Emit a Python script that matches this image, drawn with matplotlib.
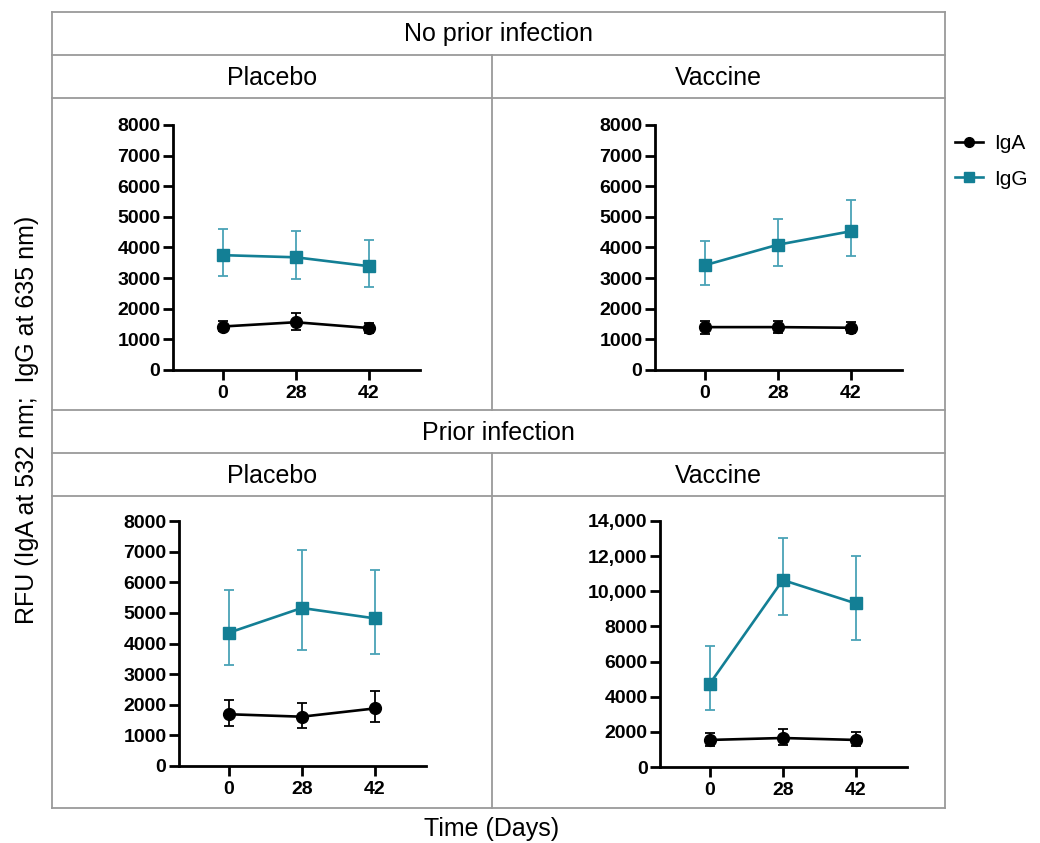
import matplotlib
matplotlib.use('Agg')
import matplotlib.pyplot as plt
from matplotlib.lines import Line2D
from matplotlib.ticker import FuncFormatter

plt.rcParams['font.family'] = ['Liberation Sans', 'DejaVu Sans']

days = ['0', '28', '42']

# mean, lower and upper error ends
# No prior infection / Placebo
tl_iga = [1420, 1560, 1370]
tl_iga_lo = [1260, 1305, 1220]
tl_iga_hi = [1590, 1850, 1545]
tl_igg = [3750, 3680, 3390]
tl_igg_lo = [3070, 2970, 2700]
tl_igg_hi = [4590, 4550, 4240]

# No prior infection / Vaccine
tr_iga = [1400, 1400, 1380]
tr_iga_lo = [1180, 1200, 1200]
tr_iga_hi = [1590, 1590, 1560]
tr_igg = [3420, 4090, 4530]
tr_igg_lo = [2775, 3405, 3720]
tr_igg_hi = [4220, 4940, 5540]

# Prior infection / Placebo
bl_iga = [1690, 1610, 1880]
bl_iga_lo = [1305, 1250, 1445]
bl_iga_hi = [2145, 2055, 2435]
bl_igg = [4350, 5160, 4820]
bl_igg_lo = [3310, 3775, 3645]
bl_igg_hi = [5755, 7040, 6410]

# Prior infection / Vaccine
br_iga = [1540, 1650, 1540]
br_iga_lo = [1180, 1235, 1180]
br_iga_hi = [1940, 2185, 2015]
br_igg = [4730, 10640, 9310]
br_igg_lo = [3265, 8660, 7255]
br_igg_hi = [6875, 13050, 12005]

W, H = 1040, 843
fig = plt.figure(figsize=(W / 100, H / 100), dpi=100)


def fx(px):
    return px / W


def fy(py):
    return 1 - py / H


teal = '#137f95'
teal_err = '#4aa3b6'
grid_col = '#9a9a9a'

# facet frame lines
def hline(y, x0, x1):
    fig.add_artist(Line2D([fx(x0), fx(x1)], [fy(y), fy(y)], color=grid_col, lw=1.3))


def vline(x, y0, y1):
    fig.add_artist(Line2D([fx(x), fx(x)], [fy(y0), fy(y1)], color=grid_col, lw=1.3))


for y in [12, 55, 98, 410, 453, 496, 808]:
    hline(y, 52, 945)
vline(52, 12, 808)
vline(945, 12, 808)
vline(492, 55, 410)
vline(492, 453, 808)

fig.text(fx(498), fy(34), 'No prior infection', ha='center', va='center', fontsize=18)
fig.text(fx(498), fy(433), 'Prior infection', ha='center', va='center', fontsize=18)
for yy in [78, 476]:
    fig.text(fx(272), fy(yy), 'Placebo', ha='center', va='center', fontsize=18)
    fig.text(fx(718), fy(yy), 'Vaccine', ha='center', va='center', fontsize=18)

fig.text(fx(27), fy(420), 'RFU (IgA at 532 nm;  IgG at 635 nm)', rotation=90,
         ha='center', va='center', fontsize=18)
fig.text(fx(492), fy(829), 'Time (Days)', ha='center', va='center', fontsize=18)

panels = [
    (173, 125, 370, 8000, tl_iga, tl_iga_lo, tl_iga_hi, tl_igg, tl_igg_lo, tl_igg_hi),
    (655, 125, 370, 8000, tr_iga, tr_iga_lo, tr_iga_hi, tr_igg, tr_igg_lo, tr_igg_hi),
    (179, 521, 766, 8000, bl_iga, bl_iga_lo, bl_iga_hi, bl_igg, bl_igg_lo, bl_igg_hi),
    (660, 521, 767, 14000, br_iga, br_iga_lo, br_iga_hi, br_igg, br_igg_lo, br_igg_hi),
]

xpos = list(range(len(days)))
axes = []
for left, top, bot, ymax, a, alo, ahi, g, glo, ghi in panels:
    ax = fig.add_axes([fx(left), fy(bot), 247 / W, (bot - top) / H])
    axes.append(ax)
    ax.set_xlim(-0.68, 2.7)
    ax.set_ylim(0, ymax)
    step = 1000 if ymax == 8000 else 2000
    ax.set_yticks(range(0, ymax + 1, step))
    ax.yaxis.set_major_formatter(FuncFormatter(
        lambda v, p: f'{int(v):,}' if v >= 10000 else f'{int(v)}'))
    ax.set_xticks(xpos)
    ax.set_xticklabels(days)
    for s in ['top', 'right']:
        ax.spines[s].set_visible(False)
    for s in ['left', 'bottom']:
        ax.spines[s].set_linewidth(2)
    ax.tick_params(length=7, width=2, labelsize=14, pad=2)
    ax.tick_params(axis='x', pad=4)
    for lab in ax.get_xticklabels() + ax.get_yticklabels():
        lab.set_fontweight('bold')
    ax.patch.set_alpha(0)

    ga = [g[i] - glo[i] for i in xpos]
    gb = [ghi[i] - g[i] for i in xpos]
    ax.errorbar(xpos, g, yerr=[ga, gb], fmt='none', ecolor=teal_err,
                elinewidth=1.3, capsize=3.8, capthick=1.3, zorder=2)
    ax.plot(xpos, g, color=teal, lw=1.9, marker='s', ms=8.5, zorder=3, label='IgG')
    aa = [a[i] - alo[i] for i in xpos]
    ab = [ahi[i] - a[i] for i in xpos]
    ax.errorbar(xpos, a, yerr=[aa, ab], fmt='none', ecolor='black',
                elinewidth=1.3, capsize=3.8, capthick=1.3, zorder=2)
    ax.plot(xpos, a, color='black', lw=1.9, marker='o', ms=8.5, zorder=3, label='IgA')

h = [Line2D([], [], color='black', lw=1.9, marker='o', ms=7),
     Line2D([], [], color=teal, lw=1.9, marker='s', ms=7)]
fig.legend(h, ['IgA', 'IgG'], loc='upper left', bbox_to_anchor=(fx(955), fy(134)),
           frameon=False, fontsize=15, handlelength=1.35, labelspacing=0.8,
           handletextpad=0.55, borderpad=0, borderaxespad=0)

fig.savefig('out.png', dpi=100)
